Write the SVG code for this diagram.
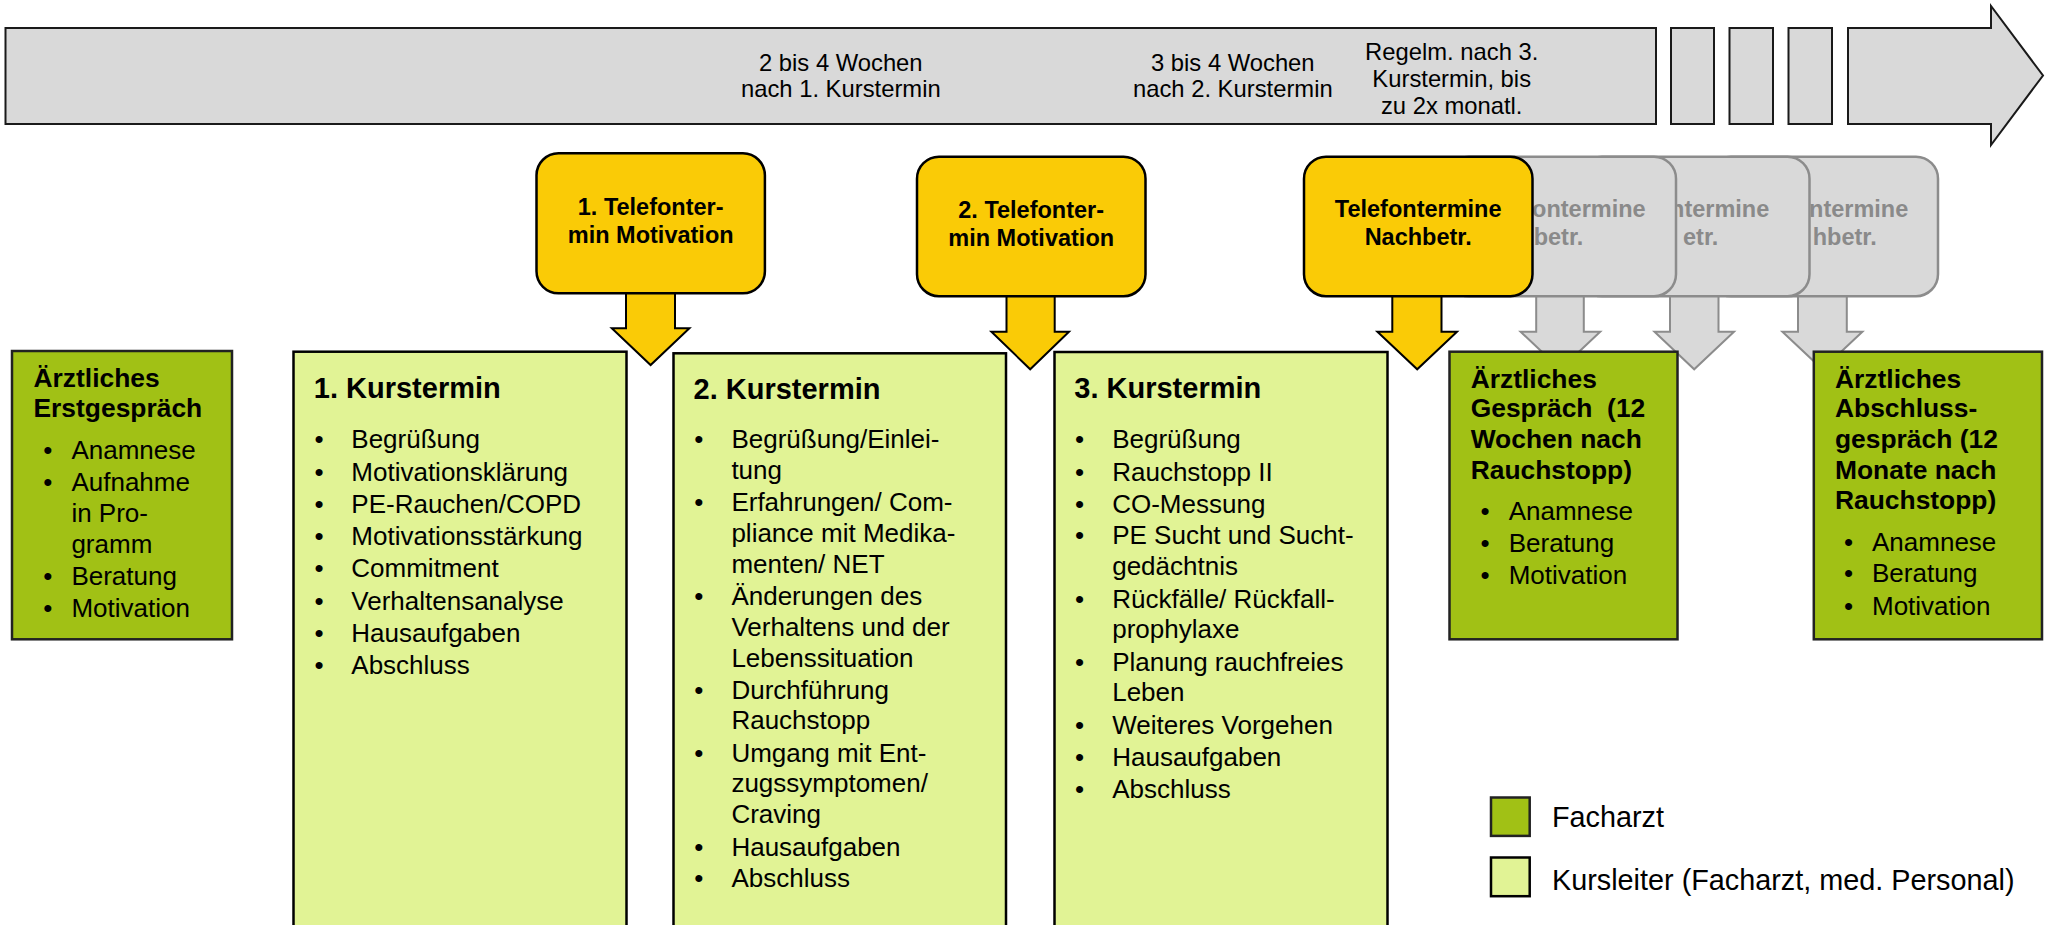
<svg xmlns="http://www.w3.org/2000/svg" width="2051" height="925" viewBox="0 0 2051 925">
<style>
text{font-family:"Liberation Sans",Arial,sans-serif;fill:#000}
.tl{font-size:23.8px}
.tb{font-size:23.5px;font-weight:bold;text-anchor:middle}
.tg{font-size:23.5px;font-weight:bold;text-anchor:end;fill:#8a8a8a}
.h{font-size:29px;font-weight:bold}
.hg{font-size:26.4px;font-weight:bold}
.b{font-size:26px}
.bul{font-size:26px;text-anchor:middle}
.lg{font-size:28.8px}
.bar{fill:#d9d9d9;stroke:#1a1a1a;stroke-width:2}
.yb{fill:#facb06;stroke:#000;stroke-width:2.5}
.gb{fill:#d9d9d9;stroke:#8c8c8c;stroke-width:2.5}
.ya{fill:#facb06;stroke:#000;stroke-width:2}
.ga{fill:#d9d9d9;stroke:#8c8c8c;stroke-width:2}
.dg{fill:#a1c115;stroke:#222;stroke-width:2.5}
.lgn{fill:#e1f395;stroke:#000;stroke-width:2.5}
</style>

<g id="timeline">
<rect class="bar" x="5.5" y="28" width="1650.5" height="96"/>
<rect class="bar" x="1671" y="28" width="43" height="96"/>
<rect class="bar" x="1729.5" y="28" width="43.5" height="96"/>
<rect class="bar" x="1788.5" y="28" width="43.5" height="96"/>
<path class="bar" d="M1848,28 L1991,28 L1991,6 L2043,75.5 L1991,145 L1991,124 L1848,124 Z"/>
<text class="tl" text-anchor="middle"><tspan x="840.8" y="70.5">2 bis 4 Wochen</tspan><tspan x="840.8" y="97.3">nach 1. Kurstermin</tspan></text>
<text class="tl" text-anchor="middle"><tspan x="1232.8" y="70.5">3 bis 4 Wochen</tspan><tspan x="1232.8" y="97.3">nach 2. Kurstermin</tspan></text>
<text class="tl" text-anchor="middle"><tspan x="1451.7" y="59.5">Regelm. nach 3.</tspan><tspan x="1451.7" y="87">Kurstermin, bis</tspan><tspan x="1451.7" y="114.3">zu 2x monatl.</tspan></text>
</g>

<g id="connectors">
<path class="ga" d="M1798,296 L1846.8,296 L1846.8,331.7 L1862.4,331.7 L1822.4,369.3 L1782.4,331.7 L1798,331.7 Z"/>
<path class="ga" d="M1670,296 L1718.5,296 L1718.5,331.7 L1734,331.7 L1694.2,369.3 L1654.5,331.7 L1670,331.7 Z"/>
<path class="ga" d="M1536.2,296 L1583.8,296 L1583.8,331.7 L1600.2,331.7 L1560.4,369.3 L1520.6,331.7 L1536.2,331.7 Z"/>
<path class="ya" d="M626,292 L675,292 L675,328.3 L689.4,328.3 L650.6,365 L611.8,328.3 L626,328.3 Z"/>
<path class="ya" d="M1006.5,295 L1054.7,295 L1054.7,331.7 L1069,331.7 L1030.2,369.3 L991.4,331.7 L1006.5,331.7 Z"/>
<path class="ya" d="M1392.3,295 L1441.5,295 L1441.5,331.7 L1457,331.7 L1417.2,369.3 L1377.4,331.7 L1392.3,331.7 Z"/>
</g>

<g id="tel-grey-3">
<rect class="gb" x="1709" y="156.7" width="229" height="139.5" rx="22"/>
<text class="tg"><tspan x="1908.3" y="216.8">ntermine</tspan><tspan x="1876.7" y="244.5">hbetr.</tspan></text>
</g>
<g id="tel-grey-2">
<rect class="gb" x="1580" y="156.7" width="229.5" height="139.5" rx="22"/>
<text class="tg"><tspan x="1769.3" y="216.8">ntermine</tspan><tspan x="1718.3" y="244.5">etr.</tspan></text>
</g>
<g id="tel-grey-1">
<rect class="gb" x="1447" y="156.7" width="229" height="139.5" rx="22"/>
<text class="tg"><tspan x="1645.7" y="216.8">ontermine</tspan><tspan x="1583.3" y="244.5">betr.</tspan></text>
</g>

<g id="tel-1">
<rect class="yb" x="536.5" y="153.3" width="228.4" height="140" rx="22"/>
<text class="tb"><tspan x="650.7" y="215">1. Telefonter-</tspan><tspan x="650.7" y="243">min Motivation</tspan></text>
</g>
<g id="tel-2">
<rect class="yb" x="917" y="156.7" width="228.5" height="139.5" rx="22"/>
<text class="tb"><tspan x="1031.2" y="218">2. Telefonter-</tspan><tspan x="1031.2" y="246">min Motivation</tspan></text>
</g>
<g id="tel-nachbetr">
<rect class="yb" x="1304" y="156.7" width="228.5" height="139.5" rx="22"/>
<text class="tb"><tspan x="1418.2" y="216.8">Telefontermine</tspan><tspan x="1418.2" y="244.5">Nachbetr.</tspan></text>
</g>

<g id="erstgespraech">
<rect class="dg" x="12" y="351" width="220" height="288.3"/>
<text class="hg"><tspan x="33.5" y="387">Ärztliches</tspan><tspan x="33.5" y="417.3">Erstgespräch</tspan></text>
<text class="bul"><tspan x="47.8" y="459">•</tspan><tspan x="47.8" y="490.5">•</tspan><tspan x="47.8" y="584.5">•</tspan><tspan x="47.8" y="616.5">•</tspan></text>
<text class="b"><tspan x="71.4" y="459">Anamnese</tspan><tspan x="71.4" y="490.5">Aufnahme</tspan><tspan x="71.4" y="521.7">in Pro-</tspan><tspan x="71.4" y="553">gramm</tspan><tspan x="71.4" y="584.5">Beratung</tspan><tspan x="71.4" y="616.5">Motivation</tspan></text>
</g>

<g id="kurs1">
<rect class="lgn" x="293.5" y="351.7" width="333" height="600"/>
<text class="h" x="313.8" y="398.3">1. Kurstermin</text>
<text class="bul"><tspan x="319" y="448.4">•</tspan><tspan x="319" y="480.7">•</tspan><tspan x="319" y="512.9">•</tspan><tspan x="319" y="545.2">•</tspan><tspan x="319" y="577.4">•</tspan><tspan x="319" y="609.7">•</tspan><tspan x="319" y="641.9">•</tspan><tspan x="319" y="674.2">•</tspan></text>
<text class="b"><tspan x="351.3" y="448.4">Begrüßung</tspan><tspan x="351.3" y="480.7">Motivationsklärung</tspan><tspan x="351.3" y="512.9">PE-Rauchen/COPD</tspan><tspan x="351.3" y="545.2">Motivationsstärkung</tspan><tspan x="351.3" y="577.4">Commitment</tspan><tspan x="351.3" y="609.7">Verhaltensanalyse</tspan><tspan x="351.3" y="641.9">Hausaufgaben</tspan><tspan x="351.3" y="674.2">Abschluss</tspan></text>
</g>

<g id="kurs2">
<rect class="lgn" x="673.5" y="353.3" width="332.5" height="600"/>
<text class="h" x="693.5" y="399.1">2. Kurstermin</text>
<text class="bul"><tspan x="698.8" y="448.4">•</tspan><tspan x="698.8" y="510.6">•</tspan><tspan x="698.8" y="605.1">•</tspan><tspan x="698.8" y="698.9">•</tspan><tspan x="698.8" y="761.9">•</tspan><tspan x="698.8" y="855.6">•</tspan><tspan x="698.8" y="887.1">•</tspan></text>
<text class="b"><tspan x="731.4" y="448.4">Begrüßung/Einlei-</tspan><tspan x="731.4" y="478.8">tung</tspan><tspan x="731.4" y="510.6">Erfahrungen/ Com-</tspan><tspan x="731.4" y="541.8">pliance mit Medika-</tspan><tspan x="731.4" y="572.9">menten/ NET</tspan><tspan x="731.4" y="605.1">Änderungen des</tspan><tspan x="731.4" y="635.5">Verhaltens und der</tspan><tspan x="731.4" y="666.6">Lebenssituation</tspan><tspan x="731.4" y="698.9">Durchführung</tspan><tspan x="731.4" y="729.2">Rauchstopp</tspan><tspan x="731.4" y="761.9">Umgang mit Ent-</tspan><tspan x="731.4" y="792.2">zugssymptomen/</tspan><tspan x="731.4" y="823.4">Craving</tspan><tspan x="731.4" y="855.6">Hausaufgaben</tspan><tspan x="731.4" y="887.1">Abschluss</tspan></text>
</g>

<g id="kurs3">
<rect class="lgn" x="1054.5" y="352" width="333" height="600"/>
<text class="h" x="1074.3" y="398.3">3. Kurstermin</text>
<text class="bul"><tspan x="1079.6" y="448.4">•</tspan><tspan x="1079.6" y="480.7">•</tspan><tspan x="1079.6" y="512.9">•</tspan><tspan x="1079.6" y="544.4">•</tspan><tspan x="1079.6" y="607.8">•</tspan><tspan x="1079.6" y="670.8">•</tspan><tspan x="1079.6" y="734.2">•</tspan><tspan x="1079.6" y="766.4">•</tspan><tspan x="1079.6" y="797.9">•</tspan></text>
<text class="b"><tspan x="1112.2" y="448.4">Begrüßung</tspan><tspan x="1112.2" y="480.7">Rauchstopp II</tspan><tspan x="1112.2" y="512.9">CO-Messung</tspan><tspan x="1112.2" y="544.4">PE Sucht und Sucht-</tspan><tspan x="1112.2" y="575">gedächtnis</tspan><tspan x="1112.2" y="607.8">Rückfälle/ Rückfall-</tspan><tspan x="1112.2" y="638.4">prophylaxe</tspan><tspan x="1112.2" y="670.8">Planung rauchfreies</tspan><tspan x="1112.2" y="701.2">Leben</tspan><tspan x="1112.2" y="734.2">Weiteres Vorgehen</tspan><tspan x="1112.2" y="766.4">Hausaufgaben</tspan><tspan x="1112.2" y="797.9">Abschluss</tspan></text>
</g>

<g id="gespraech12w">
<rect class="dg" x="1449.5" y="351.7" width="228" height="287.6"/>
<text class="hg"><tspan x="1470.7" y="387.7">Ärztliches</tspan><tspan x="1470.7" y="417.3">Gespräch&#160; (12</tspan><tspan x="1470.7" y="448.4">Wochen nach</tspan><tspan x="1470.7" y="478.8">Rauchstopp)</tspan></text>
<text class="bul"><tspan x="1485" y="519.8">•</tspan><tspan x="1485" y="552">•</tspan><tspan x="1485" y="584.3">•</tspan></text>
<text class="b"><tspan x="1508.7" y="519.8">Anamnese</tspan><tspan x="1508.7" y="552">Beratung</tspan><tspan x="1508.7" y="584.3">Motivation</tspan></text>
</g>

<g id="abschlussgespraech">
<rect class="dg" x="1813.8" y="351.7" width="228.2" height="287.6"/>
<text class="hg"><tspan x="1835" y="387.7">Ärztliches</tspan><tspan x="1835" y="417.3">Abschluss-</tspan><tspan x="1835" y="448.4">gespräch (12</tspan><tspan x="1835" y="478.8">Monate nach</tspan><tspan x="1835" y="509.1">Rauchstopp)</tspan></text>
<text class="bul"><tspan x="1848.5" y="550.9">•</tspan><tspan x="1848.5" y="582.4">•</tspan><tspan x="1848.5" y="614.6">•</tspan></text>
<text class="b"><tspan x="1872" y="550.9">Anamnese</tspan><tspan x="1872" y="582.4">Beratung</tspan><tspan x="1872" y="614.6">Motivation</tspan></text>
</g>

<g id="legend">
<rect class="dg" x="1491" y="797.5" width="38.7" height="38.4"/>
<text class="lg" x="1552" y="827">Facharzt</text>
<rect class="lgn" x="1491" y="857.5" width="38.7" height="38.7"/>
<text class="lg" x="1552" y="889.5">Kursleiter (Facharzt, med. Personal)</text>
</g>
</svg>
